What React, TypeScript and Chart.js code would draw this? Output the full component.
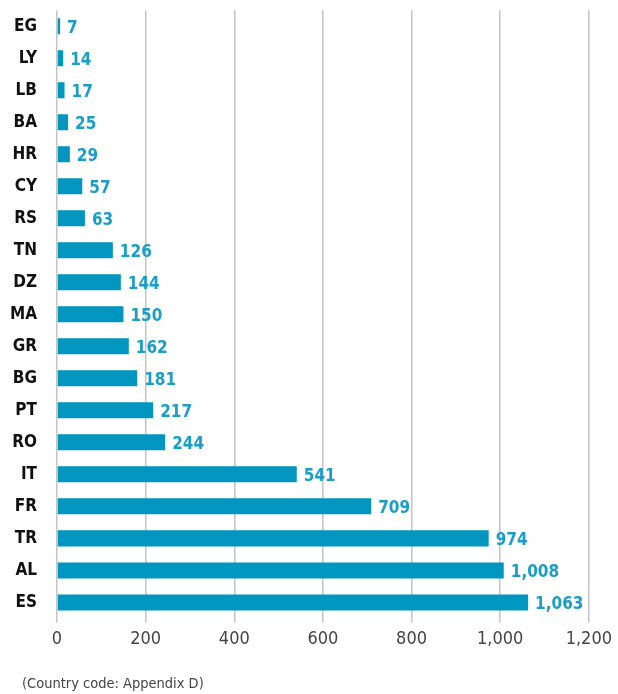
import React, { useEffect, useRef } from "react";
import { Chart, registerables } from "chart.js";

Chart.register(...registerables);

const countries = ["EG", "LY", "LB", "BA", "HR", "CY", "RS", "TN", "DZ", "MA", "GR", "BG", "PT", "RO", "IT", "FR", "TR", "AL", "ES"];
const values = [7, 14, 17, 25, 29, 57, 63, 126, 144, 150, 162, 181, 217, 244, 541, 709, 974, 1008, 1063];
const xTicks = [0, 200, 400, 600, 800, 1000, 1200];
const footnote = "(Country code: Appendix D)";

const FONT = "'DejaVu Sans Condensed', 'Liberation Sans Narrow', 'Roboto', sans-serif";
const BAR = "#0096bf";
const LABEL = "#1a9dc8";

const fmt = (v: number) => v.toLocaleString("en-US");

const valueLabels = {
  id: "valueLabels",
  afterDatasetsDraw(chart: any) {
    const ctx = chart.ctx;
    const meta = chart.getDatasetMeta(0);
    ctx.save();
    ctx.fillStyle = LABEL;
    ctx.font = `bold 17px ${FONT}`;
    ctx.textAlign = "left";
    ctx.textBaseline = "middle";
    meta.data.forEach((bar: any, i: number) => {
      ctx.fillText(fmt(values[i]), bar.x + 7, bar.y + 2);
    });
    ctx.restore();
  },
};

export default function App() {
  const ref = useRef<HTMLCanvasElement | null>(null);
  useEffect(() => {
    document.body.style.margin = "0";
    if (!ref.current) return;
    const chart = new Chart(ref.current, {
      type: "bar",
      data: {
        labels: countries,
        datasets: [
          {
            data: values,
            backgroundColor: BAR,
            barPercentage: 0.5,
            categoryPercentage: 1,
          },
        ],
      },
      options: {
        indexAxis: "y",
        animation: false,
        responsive: false,
        layout: { padding: { left: 10, right: 11, top: -1, bottom: 38 } },
        plugins: { legend: { display: false }, tooltip: { enabled: false } },
        scales: {
          x: {
            min: 0,
            max: 1200,
            afterBuildTicks(axis: any) {
              axis.ticks = xTicks.map((v) => ({ value: v }));
            },
            grid: { color: "#c4c4c4", lineWidth: 1.5, drawTicks: true, tickLength: 4 },
            border: { display: false },
            ticks: {
              color: "#444",
              font: { family: FONT, size: 18 },
              padding: 6,
              callback: (v: any) => fmt(Number(v)),
            },
          },
          y: {
            afterFit(axis: any) {
              axis.width = 47;
            },
            grid: { display: true, drawOnChartArea: false, color: "rgba(0,0,0,0)", tickLength: 20 },
            border: { display: false },
            ticks: {
              color: "#111",
              font: { family: FONT, size: 17, weight: "bold" },
              padding: 0,
            },
          },
        },
      },
      plugins: [valueLabels],
    });
    return () => chart.destroy();
  }, []);
  return (
    <div style={{ position: "relative", width: 618, height: 694 }}>
      <canvas ref={ref} width={618} height={694} />
      <div
        style={{
          position: "absolute",
          left: 22,
          top: 675,
          fontFamily: FONT,
          fontSize: 14.5,
          color: "#444",
          whiteSpace: "nowrap",
        }}
      >
        {footnote}
      </div>
    </div>
  );
}
